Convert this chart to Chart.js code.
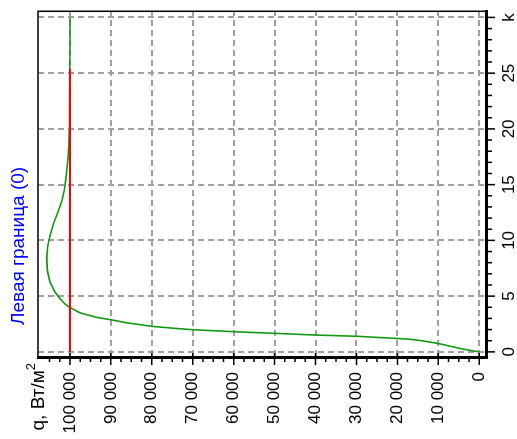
<!DOCTYPE html>
<html>
<head>
<meta charset="utf-8">
<script src="https://cdn.jsdelivr.net/npm/chart.js@4/dist/chart.umd.min.js"></script>
<style>
  html, body { margin: 0; padding: 0; background: #fff; overflow: hidden; }
  #turn {
    position: absolute; left: 0; top: 0;
    width: 439px; height: 517px;
    transform-origin: 0 0;
    transform: translate(0, 439px) rotate(-90deg);
    font-family: "Liberation Sans", Arial, sans-serif;
  }
  #chart { position: absolute; left: 0; top: 0; }
  .title {
    position: absolute; left: 114px; top: 8px;
    font-size: 19px; line-height: 19px; color: #0000ff; white-space: nowrap;
  }
  .qlabel {
    position: absolute; right: 363px; top: 28px;
    font-size: 19px; line-height: 19px; color: #000; white-space: nowrap;
  }
  .qlabel span { font-size: 13px; position: relative; top: -9px; }
</style>
</head>
<body>
<div id="turn">
  <canvas id="chart" width="439" height="517"></canvas>
  <div class="title">Левая граница (0)</div>
  <div class="qlabel">q, Вт/м<span>2</span></div>
</div>
<script>
// k on the horizontal axis, q (W/m2) on the vertical one; the whole picture is turned 90 deg
const kTicks = [0, 5, 10, 15, 20, 25, 30];
const qTicks = [0, 10000, 20000, 30000, 40000, 50000, 60000, 70000, 80000, 90000, 100000];

const redK = [0, 25.4];
const redQ = [100000, 100000];

const greenK = [0, 0.25, 0.5, 0.75, 1.0, 1.13, 1.2, 1.3, 1.4, 1.51, 1.66, 1.81, 1.99, 2.1, 2.29,
  2.6, 2.88, 3.1, 3.5, 3.97, 4.3, 4.75, 5.4, 6.3, 7.3, 8.4, 9.5, 10.5, 11.5, 12.5, 13.5,
  14.5, 15.5, 16.5, 17.5, 18.5, 20, 22, 25, 28, 30];
const greenQ = [0, 4000, 7000, 10000, 14000, 16900, 20000, 25000, 30000, 40000, 50000, 60000, 70000, 74000, 80000,
  86000, 90000, 93500, 97500, 100000, 101200, 102400, 103700, 104900, 105500, 105700, 105400, 104800, 104000, 103000, 102000,
  101400, 101000, 100700, 100450, 100300, 100150, 100100, 100050, 100000, 100000];

const kMinor = [];
for (let k = 0; k <= 30; k++) kMinor.push(k);
const qMinor = [];
for (let q = 0; q <= 105000; q += 2500) qMinor.push(q);

const fmt = v => String(v).replace(/\B(?=(\d{3})+(?!\d))/g, ' ');
const font = { family: "'Liberation Sans', Arial, sans-serif", size: 17 };

const frameAndTicks = {
  id: 'frameAndTicks',
  afterDraw(chart) {
    const { ctx, chartArea: a, scales: { x, y } } = chart;
    ctx.save();
    ctx.strokeStyle = '#000';
    ctx.lineWidth = 1.5;
    ctx.beginPath();
    ctx.moveTo(a.left, a.top);
    ctx.lineTo(a.right, a.top);
    ctx.lineTo(a.right, a.bottom);
    ctx.stroke();

    ctx.beginPath();
    kMinor.forEach(k => {
      const px = x.getPixelForValue(k);
      const len = kTicks.includes(k) ? 9 : 6;
      ctx.moveTo(px, a.bottom);
      ctx.lineTo(px, a.bottom + len);
    });
    qMinor.forEach(q => {
      const py = y.getPixelForValue(q);
      if (qTicks.includes(q)) {
        ctx.moveTo(a.left + 5, py);
        ctx.lineTo(a.left - 7, py);
      } else {
        ctx.moveTo(a.left, py);
        ctx.lineTo(a.left - 4, py);
      }
    });
    ctx.stroke();
    ctx.restore();
  }
};

new Chart(document.getElementById('chart'), {
  type: 'scatter',
  data: {
    datasets: [
      {
        label: 'red',
        data: redK.map((k, i) => ({ x: k, y: redQ[i] })),
        showLine: true,
        borderColor: '#ff0000',
        borderWidth: 2,
        pointRadius: 0,
        tension: 0
      },
      {
        label: 'green',
        data: greenK.map((k, i) => ({ x: k, y: greenQ[i] })),
        showLine: true,
        borderColor: '#119911',
        borderWidth: 1.6,
        pointRadius: 0,
        tension: 0
      }
    ]
  },
  options: {
    responsive: false,
    animation: false,
    layout: { padding: { top: 38, right: 9, left: 0, bottom: 0 } },
    plugins: {
      legend: { display: false },
      tooltip: { enabled: false },
      title: { display: false }
    },
    scales: {
      x: {
        type: 'linear',
        min: -0.55,
        max: 30.55,
        afterBuildTicks: s => { s.ticks = kTicks.map(v => ({ value: v })); },
        afterFit: s => { s.height = 31; },
        ticks: {
          autoSkip: false,
          maxRotation: 0,
          padding: 13,
          color: '#000',
          font,
          callback: v => (v === 30 ? 'k' : String(v))
        },
        grid: { color: '#a0a0a0', lineWidth: 2, drawTicks: false },
        border: { display: true, color: '#000', width: 3, dash: [6, 4] }
      },
      y: {
        type: 'linear',
        min: -1650,
        max: 107800,
        afterBuildTicks: s => { s.ticks = qTicks.map(v => ({ value: v })); },
        afterFit: s => { s.width = 81; },
        ticks: {
          autoSkip: false,
          padding: 14,
          color: '#000',
          font,
          callback: v => fmt(v)
        },
        grid: { color: '#a0a0a0', lineWidth: 2, drawTicks: false },
        border: { display: true, color: '#000', width: 3, dash: [6, 4] }
      }
    }
  },
  plugins: [frameAndTicks]
});
</script>
</body>
</html>
